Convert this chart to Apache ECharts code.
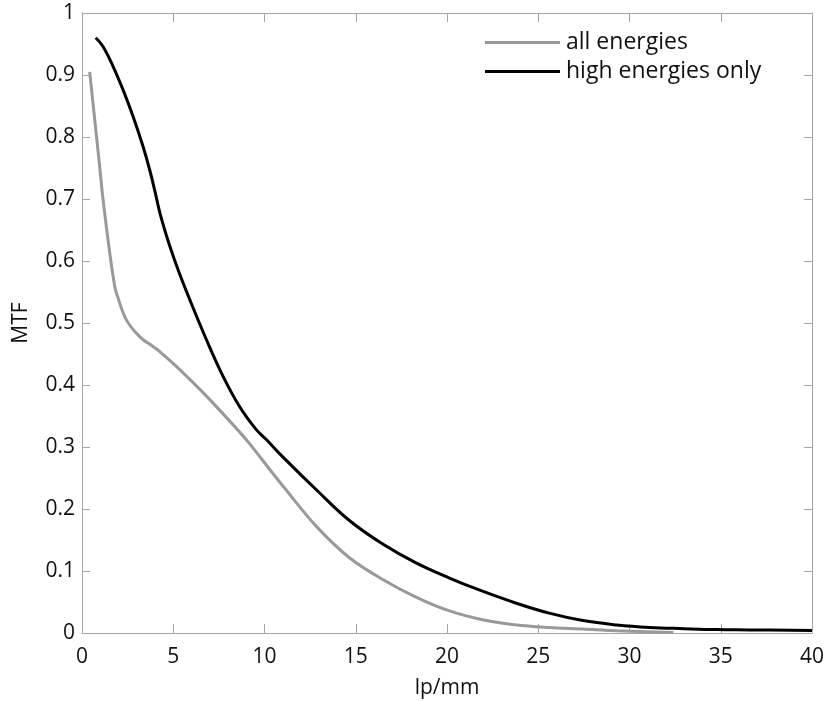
<!DOCTYPE html>
<html>
<head>
<meta charset="utf-8">
<script src="https://cdn.jsdelivr.net/npm/echarts@6/dist/echarts.min.js"></script>
<style>html,body{margin:0;padding:0;background:#fff}#c{width:827px;height:701px}</style>
</head>
<body>
<div id="c"></div>
<script>
const xTicks = [0, 5, 10, 15, 20, 25, 30, 35, 40];
const yTicks = [0, 0.1, 0.2, 0.3, 0.4, 0.5, 0.6, 0.7, 0.8, 0.9, 1];
const seriesNames = ['all energies', 'high energies only'];
const allEnergies = [
  [0.42,0.905],[0.97,0.752],[1.15,0.70],[1.52,0.613],[1.8,0.558],[1.9,0.547],[2.43,0.505],
  [3.16,0.478],[3.89,0.462],[4.26,0.454],[5.17,0.43],[6.82,0.382],[8.64,0.324],[9.19,0.305],
  [10.47,0.257],[11.01,0.237],[12.84,0.172],[14.67,0.121],[16.5,0.086],[18.3,0.058],[20.1,0.036],
  [22,0.021],[23.8,0.013],[25.6,0.009],[27.45,0.0065],[29.3,0.0037],[32.4,0.001]
];
const highEnergies = [
  [0.75,0.96],[1.15,0.946],[1.7,0.914],[2.25,0.876],[2.8,0.833],[3.34,0.785],[3.7,0.748],
  [4.0,0.712],[4.3,0.674],[4.8,0.625],[5.3,0.583],[5.9,0.538],[6.82,0.473],[7.73,0.414],[8.64,0.365],
  [9.55,0.328],[10.1,0.312],[11.0,0.284],[12.84,0.231],[14.67,0.181],[16.5,0.143],[18.3,0.113],
  [20.1,0.089],[21.8,0.069],[23.8,0.048],[25.6,0.032],[27.45,0.02],[29.3,0.013],[31.1,0.009],
  [33,0.007],[34.8,0.0055],[36.6,0.005],[40,0.004]
];

const font = '"Open Sans", sans-serif';
const axisGray = '#a6a6a6';
const chart = echarts.init(document.getElementById('c'), null, {renderer: 'canvas'});
const baseX = {
  type: 'value', min: xTicks[0], max: xTicks[xTicks.length-1], interval: 5,
  axisLine: {show: true, onZero: false, lineStyle: {color: axisGray, width: 1}},
  axisTick: {show: true, inside: true, length: 9, lineStyle: {color: axisGray}},
  splitLine: {show: false}
};
const baseY = {
  type: 'value', min: yTicks[0], max: yTicks[yTicks.length-1], interval: 0.1,
  axisLine: {show: true, onZero: false, lineStyle: {color: axisGray, width: 1}},
  axisTick: {show: true, inside: true, length: 8, lineStyle: {color: axisGray}},
  splitLine: {show: false}
};
chart.setOption({
  animation: false,
  backgroundColor: '#fff',
  grid: {left: 82, right: 15, top: 13, bottom: 68, containLabel: false, outerBoundsMode: 'none'},
  legend: {
    orient: 'vertical', left: 485, top: 31, padding: 0,
    itemWidth: 75, itemHeight: 3, itemGap: 6,
    icon: 'rect',
    textStyle: {fontFamily: font, fontSize: 23, color: '#111', lineHeight: 22, padding: [0,0,0,1]},
    data: seriesNames
  },
  xAxis: [
    Object.assign({}, baseX, {
      position: 'bottom',
      name: 'lp/mm', nameLocation: 'middle', nameGap: 45,
      nameTextStyle: {fontFamily: font, fontSize: 21, color: '#111'},
      axisLabel: {fontFamily: font, fontSize: 21, color: '#111', margin: 14,
        formatter: v => String(v)}
    }),
    Object.assign({}, baseX, {position: 'top', axisLabel: {show: false}})
  ],
  yAxis: [
    Object.assign({}, baseY, {
      position: 'left',
      name: 'MTF', nameLocation: 'middle', nameGap: 50,
      nameTextStyle: {fontFamily: font, fontSize: 21, color: '#111'},
      axisLabel: {fontFamily: font, fontSize: 21, color: '#111', margin: 7,
        formatter: v => String(Math.round(v*10)/10)}
    }),
    Object.assign({}, baseY, {position: 'right', axisLabel: {show: false}})
  ],
  series: [
    {name: seriesNames[0], type: 'line', data: allEnergies, smooth: 0.35, showSymbol: false,
     lineStyle: {color: '#999999', width: 3}, itemStyle: {color: '#999999'}},
    {name: seriesNames[1], type: 'line', data: highEnergies, smooth: 0.4, showSymbol: false,
     lineStyle: {color: '#000000', width: 3}, itemStyle: {color: '#000000'}}
  ]
});
</script>
</body>
</html>
